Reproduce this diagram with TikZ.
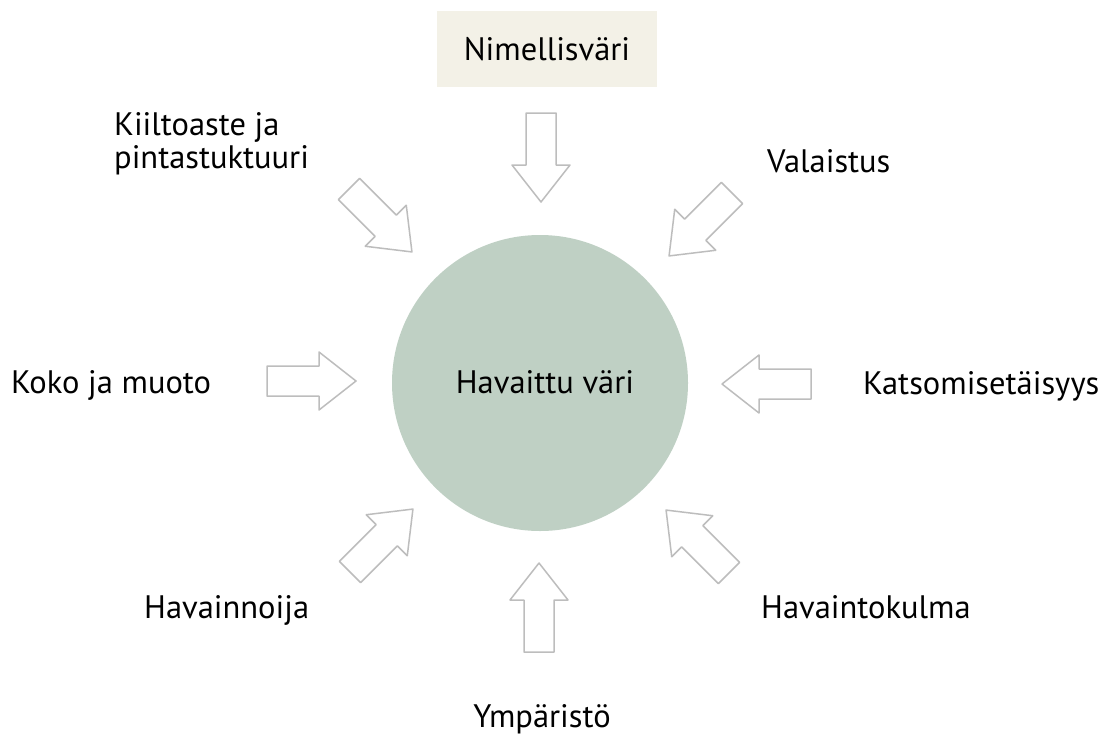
\documentclass[tikz,border=0pt]{standalone}
\usepackage{fontspec}
\setmainfont{PT Sans}
\definecolor{circfill}{HTML}{BFD0C4}
\definecolor{boxfill}{HTML}{F3F1E7}
\definecolor{arrgray}{HTML}{BDBDBD}
\tikzset{
  arrowline/.style={draw=arrgray, line width=1.5pt, fill=white, line join=round},
  blockarrow/.pic={\path[arrowline] (0,-15) -- (52,-15) -- (52,-29) -- (89,0) -- (52,29) -- (52,15) -- (0,15) -- cycle;},
  lbl/.style={inner sep=0pt, font=\fontsize{32.5}{35}\selectfont, text=black}
}
\begin{document}
\begin{tikzpicture}[x=1pt,y=-1pt]
\useasboundingbox[fill=white] (0,0) rectangle (1107,736);
% central circle
\node[circle, fill=circfill, minimum size=296pt, inner sep=0pt] (center) at (540,383) {};
\node[lbl, anchor=base] (centertext) at (545,393) {Havaittu väri};
% top box
\node[fill=boxfill, minimum width=220pt, minimum height=76pt, inner sep=0pt] (topbox) at (547,49) {};
\node[lbl, anchor=base] (nimell) at (547,60) {Nimellisväri};
% labels
\node[lbl, anchor=base west] (kiilto) at (114,135) {Kiiltoaste ja};
\node[lbl, anchor=base west] (pinta) at (114,168) {pintastuktuuri};
\node[lbl, anchor=base west] (valaistus) at (767,172) {Valaistus};
\node[lbl, anchor=base west] (koko) at (11,393) {Koko ja muoto};
\node[lbl, anchor=base west] (katso) at (863,394) {Katsomisetäisyys};
\node[lbl, anchor=base west] (havainnoija) at (144,618) {Havainnoija};
\node[lbl, anchor=base west] (havkulma) at (761,618) {Havaintokulma};
\node[lbl, anchor=base] (ymp) at (542,727) {Ympäristö};
% block arrows
\pic[rotate=-90] (aTop) at (541,113) {blockarrow};
\pic[rotate=0] (aLeft) at (267,381) {blockarrow};
\pic[rotate=180] (aRight) at (811,384) {blockarrow};
\pic[rotate=90] (aBottom) at (539,652) {blockarrow};
\pic[rotate=-45] (aUL) at (349,189) {blockarrow};
\pic[rotate=-135] (aUR) at (732,193) {blockarrow};
\pic[rotate=45] (aLL) at (350,572) {blockarrow};
\pic[rotate=135] (aLR) at (729,573) {blockarrow};
\end{tikzpicture}
\end{document}
